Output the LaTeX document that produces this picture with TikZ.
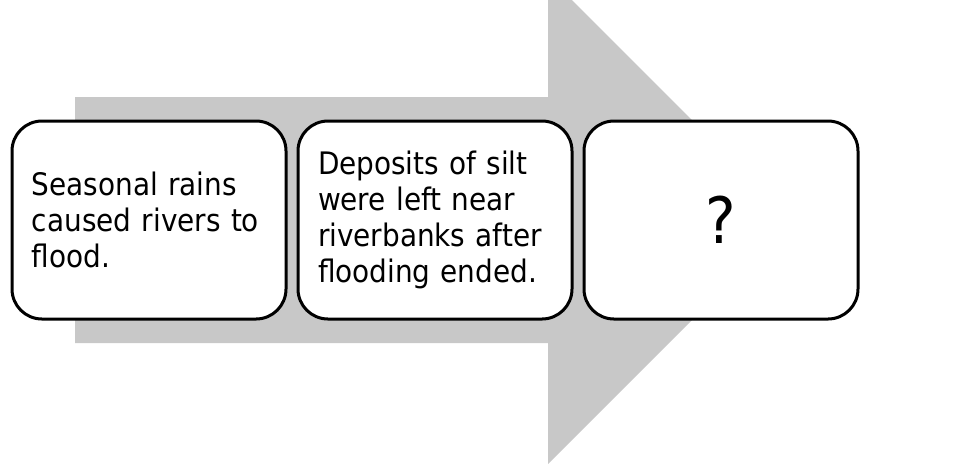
\documentclass[tikz,border=0pt]{standalone}
\usepackage{fontspec}
\setmainfont{DejaVu Sans Condensed}
\usetikzlibrary{positioning}
\definecolor{arrowgray}{RGB}{200,200,200}

\tikzset{
	stage/.style={draw=black, line width=1.5pt, fill=white, rounded corners=15pt,
		minimum width=137pt, minimum height=99pt, text width=117pt, inner xsep=10pt,
		align=left, font=\fontsize{15.5}{18}\selectfont},
}

\begin{document}
\begin{tikzpicture}[x=0.5pt, y=-0.5pt]
			\clip (0,0) rectangle (959,463);
			\useasboundingbox (0,0) rectangle (959,463);
			% big arrow behind the boxes
			\fill[arrowgray] (75,97) -- (548,97) -- (548,-24) -- (792,220) -- (548,464) -- (548,343) -- (75,343) -- cycle;
			
			\node[stage] (rains) at (149,220) {Seasonal rains\\caused rivers to\\flood.};
			\node[stage, right=4.5pt of rains] (silt) {Deposits of silt\\were left near\\riverbanks after\\flooding ended.};
			\node[stage, right=4.5pt of silt, align=center, font=\fontsize{32}{38}\selectfont] (unknown) {?};
\end{tikzpicture}
\end{document}
